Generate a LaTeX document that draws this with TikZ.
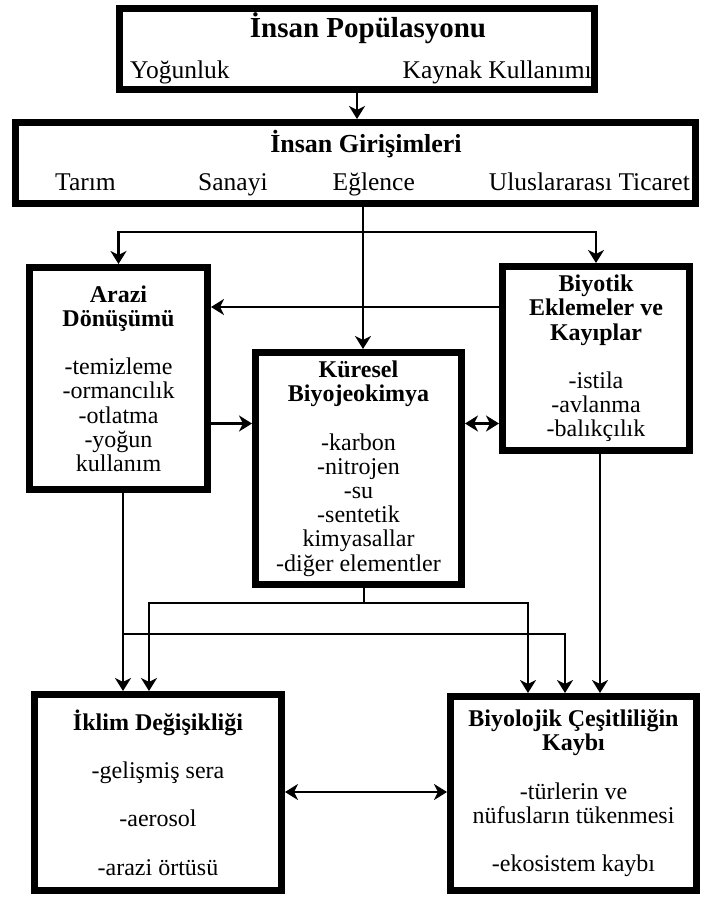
\documentclass[tikz,border=0pt]{standalone}
\usepackage{fontspec}
\setmainfont{Liberation Serif}
\usetikzlibrary{arrows.meta}

\newcommand{\boxfont}{\fontsize{24}{24.2}\selectfont}
\newcommand{\rowfont}{\fontsize{25.5}{26}\selectfont}

\begin{document}
\begin{tikzpicture}[x=1pt,y=-1pt,
  frame/.style={draw, line width=7pt, rectangle, inner sep=0pt, align=center, font=\boxfont},
  txt/.style={inner sep=0pt, anchor=base},
  wire/.style={line width=2.3pt},
  conn/.style={wire, -{Stealth[length=13pt,width=16pt,inset=4pt]}},
  conn2/.style={wire, {Stealth[length=13pt,width=16pt,inset=4pt]}-{Stealth[length=13pt,width=16pt,inset=4pt]}}
]
\useasboundingbox (0,0) rectangle (701,898);

% ---- top two boxes ----
\node[frame, minimum width=475pt, minimum height=81pt] (pop) at (357,49) {};
\node[txt, font=\fontsize{29}{30}\selectfont\bfseries] (popT) at (368,37) {İnsan Popülasyonu};
\node[txt, anchor=base west, font=\rowfont] (popA) at (130,78) {Yoğunluk};
\node[txt, anchor=base east, font=\rowfont] (popB) at (592,78) {Kaynak Kullanımı};

\node[frame, minimum width=680pt, minimum height=81pt] (ent) at (355.5,163) {};
\node[txt, font=\fontsize{26}{27}\selectfont\bfseries] (entT) at (366,152) {İnsan Girişimleri};
\node[txt, anchor=base west, font=\rowfont] (entA) at (55,190) {Tarım};
\node[txt, anchor=base west, font=\rowfont] (entB) at (198,190) {Sanayi};
\node[txt, anchor=base east, font=\rowfont] (entC) at (415,190) {Eğlence};
\node[txt, anchor=base east, font=\rowfont] (entD) at (690,190) {Uluslararası Ticaret};

% ---- middle row ----
\node[frame, minimum width=178pt, minimum height=222pt] (land) at (118.5,378.5)
  {\textbf{Arazi}\\\textbf{Dönüşümü}\\[24.2pt]-temizleme\\-ormancılık\\-otlatma\\-yoğun\\kullanım};
\node[frame, minimum width=206pt, minimum height=232pt] (geo) at (358.5,468.5)
  {\textbf{Küresel}\\\textbf{Biyojeokimya}\\[24.2pt]-karbon\\-nitrojen\\-su\\-sentetik\\kimyasallar\\-diğer elementler};
\node[frame, minimum width=187pt, minimum height=184pt] (bio) at (596,358.5)
  {\textbf{Biyotik}\\\textbf{Eklemeler ve}\\\textbf{Kayıplar}\\[24.2pt]-istila\\-avlanma\\-balıkçılık};

% ---- bottom row ----
\node[frame, minimum width=247pt, minimum height=196pt] (clim) at (158,792.5)
  {\textbf{İklim Değişikliği}\\[24.2pt]-gelişmiş sera\\[24.2pt]-aerosol\\[24.2pt]-arazi örtüsü};
\node[frame, minimum width=246pt, minimum height=194pt] (loss) at (573.5,793.5)
  {\textbf{Biyolojik Çeşitliliğin}\\\textbf{Kaybı}\\[24.2pt]-türlerin ve\\nüfusların tükenmesi\\[24.2pt]-ekosistem kaybı};

% ---- connectors ----
\draw[conn] (pop.south) -- (pop.south |- ent.north);

\coordinate (fan) at (363,232);
\draw[conn] (ent.south -| fan) -- (geo.north -| fan);
\draw[conn] (fan) -| (land.north);
\draw[conn] (fan) -| (bio.north);

\coordinate (rowA) at (0,307);
\coordinate (rowB) at (0,423.5);
\draw[conn] (bio.west |- rowA) -- (land.east |- rowA);
\draw[conn] (land.east |- rowB) -- (geo.west |- rowB);
\draw[conn2] (geo.east |- rowB) -- (bio.west |- rowB);

\coordinate (tapA) at (123,634);
\coordinate (dropA) at (565,0);
\draw[conn] (land.south -| tapA) -- (clim.north -| tapA);
\draw[conn] (tapA) -| (loss.north -| dropA);

\coordinate (tapB) at (364,603);
\coordinate (dropB) at (149,0);
\coordinate (dropC) at (528,0);
\draw[wire] (geo.south -| tapB) -- (tapB);
\draw[conn] (tapB) -| (clim.north -| dropB);
\draw[conn] (tapB) -| (loss.north -| dropC);

\coordinate (dropD) at (600,0);
\draw[conn] (bio.south -| dropD) -- (loss.north -| dropD);

\coordinate (rowC) at (0,792);
\draw[conn2] (clim.east |- rowC) -- (loss.west |- rowC);
\end{tikzpicture}
\end{document}
